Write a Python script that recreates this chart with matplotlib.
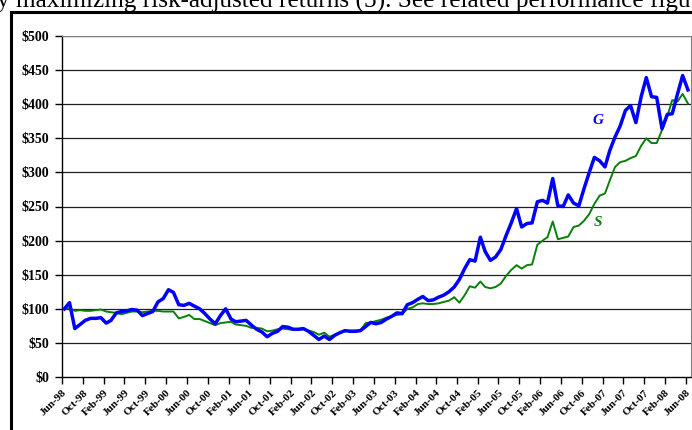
import numpy as np
import pandas as pd
import matplotlib
matplotlib.use("Agg")
import matplotlib.pyplot as plt
from matplotlib.patches import Rectangle

plt.rcParams['font.family'] = ['Liberation Serif', 'DejaVu Serif']

# --- data: monthly growth of $100, Jun-98 .. Jun-08 ---
g_values = [100, 109, 71, 77, 83, 86, 86, 87, 79, 83,
            94, 96, 97, 99, 98, 90, 93, 96, 110, 115,
            128, 124, 106, 105, 108, 104, 100, 93, 85, 78,
            90, 100, 85, 81, 82, 83, 76, 70, 66, 59,
            64, 67, 74, 73, 70, 70, 71, 67, 61, 55,
            60, 55, 61, 65, 68, 67, 67, 68, 74, 80,
            78, 80, 85, 89, 94, 93, 106, 109, 114, 118,
            112, 113, 117, 120, 125, 132, 143, 159, 172, 170,
            205, 184, 171, 176, 187, 207, 226, 247, 220, 225,
            226, 257, 259, 255, 291, 251, 250, 267, 255, 251,
            276, 300, 322, 317, 308, 332, 352, 368, 391, 398,
            373, 411, 439, 411, 410, 364, 385, 386, 415, 442,
            421]
s_values = [100, 101, 97, 98, 97, 97, 98, 99, 96, 95,
            94, 92, 94, 96, 96, 95, 96, 97, 97, 96,
            96, 96, 86, 88, 91, 85, 85, 82, 79, 76,
            79, 80, 81, 77, 76, 75, 72, 72, 71, 67,
            68, 70, 71, 70, 69, 69, 70, 68, 66, 62,
            65, 59, 62, 65, 67, 68, 68, 68, 79, 80,
            82, 84, 87, 89, 91, 92, 100, 102, 107, 108,
            107, 107, 108, 110, 112, 117, 109, 120, 133, 131,
            140, 132, 130, 132, 137, 148, 157, 164, 159, 164,
            165, 194, 200, 205, 228, 202, 204, 206, 220, 222,
            229, 239, 254, 266, 269, 288, 308, 315, 317, 321,
            324, 339, 350, 343, 343, 362, 382, 406, 404, 415,
            401]
dates = pd.date_range('1998-06-01', periods=len(g_values), freq='MS') + pd.Timedelta(days=14)
tick_dates = pd.date_range('1998-06-01', '2008-06-01', freq='4MS')
y_ticks = list(range(0, 501, 50))

# --- figure ---
fig = plt.figure(figsize=(6.92, 4.30), dpi=100)
ax = fig.add_axes([62 / 692, 53 / 430, 629 / 692, 341 / 430])

# outer frame of the chart object
fig.patches.append(Rectangle((10.5 / 692, -0.1), 1.2, 1.1 - 12 / 430,
                             transform=fig.transFigure, fill=False,
                             edgecolor='black', linewidth=2.2))

# text of the page above the chart, cut off by the crop
fig.text(-0.004, 1 - 7.5 / 430,
         'y maximizing risk-adjusted returns (5). See related performance figu',
         fontsize=18.2, ha='left', va='baseline', color='black')

for v in y_ticks[1:]:
    ax.axhline(v, color='#202020', linewidth=0.9, zorder=1)

ax.plot(dates, s_values, color='#088008', linewidth=1.4, zorder=3)
ax.plot(dates, g_values, color='#0000FF', linewidth=2.5, zorder=4)

ax.text(pd.Timestamp('2007-01-05'), 376, 'G', color='#0000FF', fontsize=11,
        fontweight='bold', fontstyle='italic', ha='center', va='center')
ax.text(pd.Timestamp('2007-01-05'), 226, 'S', color='#088008', fontsize=11,
        fontweight='bold', fontstyle='italic', ha='center', va='center')

ax.set_ylim(0, 500)
ax.set_xlim(pd.Timestamp('1998-06-01'), pd.Timestamp('2008-07-03'))
ax.set_yticks(y_ticks)
ax.set_yticklabels(['$' + str(v) for v in y_ticks], fontsize=10, fontweight='bold')
ax.set_xticks(tick_dates)
ax.set_xticklabels([d.strftime('%b-%y') for d in tick_dates], rotation=45,
                   ha='right', va='top', rotation_mode='anchor',
                   fontsize=8, fontweight='bold')
ax.tick_params(axis='y', direction='out', length=5, width=1, pad=4)
ax.tick_params(axis='x', direction='out', length=5, width=1, pad=3)

ax.spines['left'].set_color('black')
ax.spines['bottom'].set_color('black')
ax.spines['left'].set_linewidth(1)
ax.spines['bottom'].set_linewidth(1)
ax.spines['top'].set_color('#808080')
ax.spines['right'].set_color('#808080')

fig.savefig('out.png', dpi=100)
